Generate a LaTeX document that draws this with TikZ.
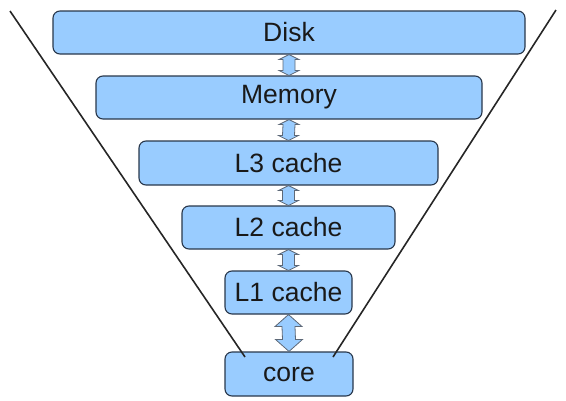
\documentclass[tikz,border=0pt]{standalone}
\usepackage{fontspec}
\setmainfont{Liberation Sans}
\usetikzlibrary{calc}
\definecolor{boxfill}{RGB}{153,204,255}
\definecolor{boxline}{RGB}{40,55,75}
\newcommand\dblarr[5]{%
  \draw[blockarrow] (#1) -- ($(#1)+(#4,#5)$) -- ($(#1)+(#3,#5)$) -- ($(#2)+(#3,-#5)$)
    -- ($(#2)+(#4,-#5)$) -- (#2) -- ($(#2)+(-#4,-#5)$) -- ($(#2)+(-#3,-#5)$)
    -- ($(#1)+(-#3,#5)$) -- ($(#1)+(-#4,#5)$) -- cycle;}
\begin{document}
\begin{tikzpicture}[x=1pt,y=-1pt,
  level/.style={draw=boxline, line width=1.1pt, fill=boxfill, rounded corners=7pt,
    minimum height=43pt, inner sep=0pt, font=\fontsize{26.5}{30}\selectfont, text=black!90},
  blockarrow/.style={draw=boxline!75, line width=0.8pt, fill=boxfill, line join=miter},
  funnel/.style={draw=black!85, line width=1.6pt}]
\useasboundingbox (0,0) rectangle (566,400);
\node[level, minimum width=472pt] (disk) at (289,32.5) {Disk};
\node[level, minimum width=386pt] (mem) at (289,97.5) {Memory};
\node[level, minimum width=299pt, minimum height=44pt] (l3) at (288.5,163) {L3 cache};
\node[level, minimum width=213pt] (l2) at (288.5,227.5) {L2 cache};
\node[level, minimum width=127pt] (l1) at (288.5,292.5) {L1 cache};
\node[level, minimum width=128pt, minimum height=44pt] (core) at (289,374) {core};
\coordinate (tl) at (10,11);
\coordinate (tr) at (556,10);
\coordinate (bl) at (245,357);
\coordinate (br) at (333,357);
\draw[funnel] (tl) -- (bl);
\draw[funnel] (tr) -- (br);
\dblarr{disk.south}{mem.north}{6}{10}{5}
\dblarr{mem.south}{l3.north}{6}{10}{5}
\dblarr{l3.south}{l2.north}{6}{10}{5}
\dblarr{l2.south}{l1.north}{6}{10}{5}
\dblarr{l1.south}{core.north}{6.5}{13.5}{12}
\end{tikzpicture}
\end{document}
